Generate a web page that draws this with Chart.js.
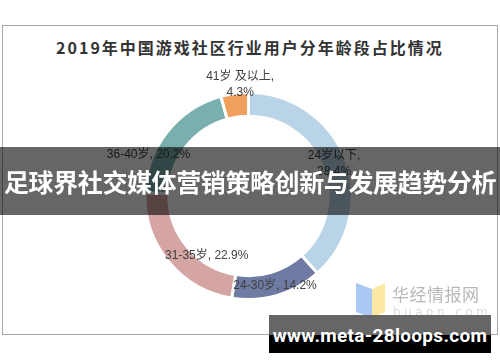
<!DOCTYPE html>
<html>
<head>
<meta charset="utf-8">
<script src="https://cdn.jsdelivr.net/npm/chart.js@4"></script>
<style>
  html, body { margin: 0; padding: 0; background: #fff; }
  #wrap { position: relative; width: 500px; height: 362px; overflow: hidden; font-family: "Noto Sans CJK SC", sans-serif; }
  #frame { position: absolute; left: 2px; top: 25px; width: 494px; height: 308px; border: 1px solid #a8a8a8; }
  #title { position: absolute; left: 0; top: 36px; width: 500px; text-align: center; font-size: 16px; font-weight: bold; letter-spacing: 2px; color: #333; line-height: 22px; }
  #chart { position: absolute; left: 0; top: 0; }
  #band { position: absolute; left: 0; top: 147px; width: 500px; height: 68px; background: rgba(0,0,0,0.6); color: #fff; font-size: 25px; font-weight: bold; line-height: 68px; text-align: center; white-space: nowrap; letter-spacing: -0.4px; }
  #mark { position: absolute; left: 356px; top: 283px; }
  #markText { position: absolute; left: 392px; top: 283px; color: #b8b8b8; font-size: 17px; line-height: 22px; letter-spacing: 0.5px; }
  #markSub { position: absolute; left: 393px; top: 305px; color: #dcdcdc; font-size: 12px; line-height: 14px; letter-spacing: 3.5px; font-family: "DejaVu Sans", sans-serif; }
  #url { position: absolute; left: 269px; top: 315px; width: 222px; height: 38px; background: linear-gradient(#666 0, #666 20px, #000 20px, #000 38px); color: #fff; font-family: Roboto, sans-serif; font-weight: bold; font-size: 19px; line-height: 42px; text-align: center; white-space: nowrap; letter-spacing: 0.3px; }
</style>
</head>
<body>
<div id="wrap">
  <div id="frame"></div>
  <div id="title">2019年中国游戏社区行业用户分年龄段占比情况</div>
  <canvas id="chart" width="500" height="362"></canvas>
  <svg id="mark" width="30" height="35" viewBox="0 0 30 35">
    <polygon points="0,0 16,6 16,35 0,29" fill="#a9c9f4"/>
    <polygon points="16,6 29,0 29,29 16,35" fill="#fbe8a2"/>
  </svg>
  <div id="markText">华经情报网</div>
  <div id="markSub">huaon.com</div>
  <div id="band">足球界社交媒体营销策略创新与发展趋势分析</div>
  <div id="url">www.meta-28loops.com</div>
</div>
<script>
const categories = ['24岁以下', '24-30岁', '31-35岁', '36-40岁', '41岁及以上'];
const shares = [38.4, 14.2, 22.9, 20.2, 4.3];
const labelLines = [['24岁以下,', '38.4%'], ['24-30岁, 14.2%'], ['31-35岁, 22.9%'], ['36-40岁, 20.2%'], ['41岁 及以上,', '4.3%']];
const colors = ['#b8d4e6', '#6f7ba3', '#d5a5a3', '#7aafaf', '#f0a05c'];
// label nudges from the arc centroid
const labelShift = [[0, 0], [1, 2], [29, 2], [-28, 15], [4, -21]];

const sliceLabels = {
    id: 'sliceLabels',
    afterDatasetsDraw(chart) {
        const ctx = chart.ctx;
        const meta = chart.getDatasetMeta(0);
        ctx.save();
        ctx.font = '12px "Liberation Sans", "Noto Sans CJK SC", sans-serif';
        ctx.fillStyle = '#404040';
        ctx.textAlign = 'center';
        ctx.textBaseline = 'middle';
        meta.data.forEach((arc, i) => {
            const p = arc.tooltipPosition();
            const lines = labelLines[i];
            const x = p.x + labelShift[i][0];
            const y = p.y + labelShift[i][1] - (lines.length - 1) * 8;
            lines.forEach((t, j) => ctx.fillText(t, x, y + j * 16));
        });
        ctx.restore();
    }
};

new Chart(document.getElementById('chart').getContext('2d'), {
    type: 'doughnut',
    data: { labels: categories, datasets: [{ data: shares, backgroundColor: colors, borderColor: '#fff', borderWidth: 3 }] },
    options: {
        responsive: false, animation: false, cutout: '77%',
        layout: { padding: { top: 91, bottom: 61, left: 0, right: 3 } },
        plugins: { legend: { display: false }, tooltip: { enabled: false }, title: { display: false } }
    },
    plugins: [sliceLabels]
});
</script>
</body>
</html>
